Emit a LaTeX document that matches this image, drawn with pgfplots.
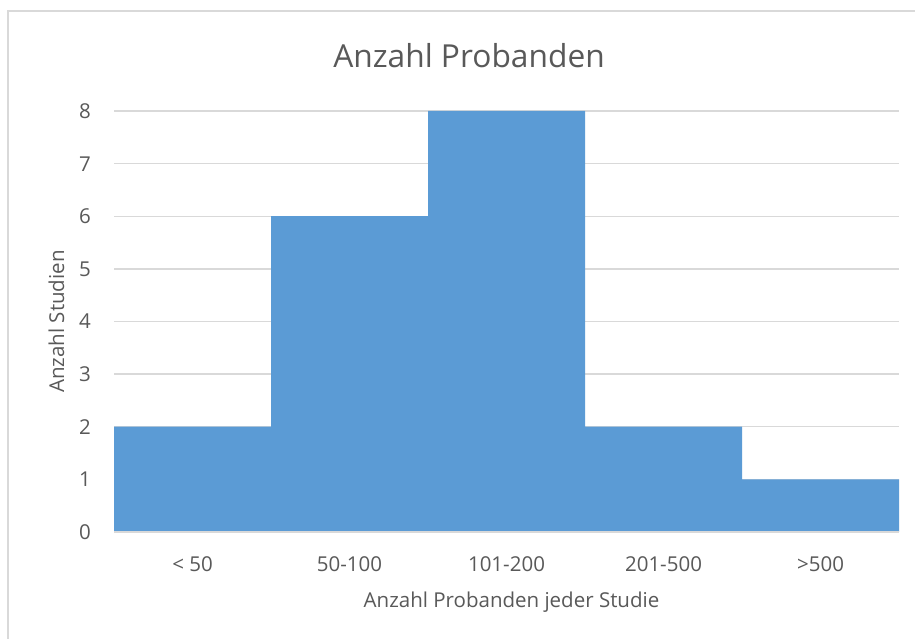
\documentclass[border=0pt]{standalone}
\usepackage{fontspec}
\setmainfont{Open Sans}
\usepackage{pgfplots}
\pgfplotsset{compat=1.18}
\definecolor{barblue}{HTML}{5B9BD5}
\definecolor{txtgrey}{HTML}{595959}
\definecolor{gridgrey}{HTML}{D9D9D9}
\begin{document}
\begin{tikzpicture}[x=1bp,y=1bp]
\useasboundingbox (0,0) rectangle (915,639);
\fill[white] (0,0) rectangle (915,639);
\draw[gridgrey, line width=1.3bp] (8,-30) -- (8,628) -- (960,628);
\begin{axis}[
  at={(114bp,107bp)}, anchor=south west,
  scale only axis,
  width=785bp, height=421bp,
  xmin=0, xmax=5, ymin=0, ymax=8,
  axis lines=none,
  ybar, bar width=1, bar shift=0,
  xtick={0.5,1.5,2.5,3.5,4.5},
  xticklabels={{< 50},{50-100},{101-200},{201-500},{>500}},
  ytick={0,...,8},
  major tick length=0pt,
  ymajorgrids=true,
  grid style={gridgrey, line width=1.3bp},
  /pgf/number format/assume math mode=true,
  every tick label/.append style={font=\fontsize{20.5bp}{24bp}\selectfont, text=txtgrey, inner sep=0pt},
  xticklabel style={anchor=base, yshift=-40bp},
  yticklabel style={anchor=base east, xshift=-23bp, yshift=-7.5bp},
  xticklabel pos=bottom,
  yticklabel pos=left,
  hide x axis=false, hide y axis=false,
  x axis line style={draw=none}, y axis line style={draw=none},
  title={Anzahl Probanden},
  title style={font=\fontsize{31.7bp}{36bp}\selectfont, text=txtgrey, inner sep=0pt, at={(axis description cs:0.5,1)}, anchor=base, yshift=38bp, xshift=-37.5bp},
  xlabel={Anzahl Probanden jeder Studie},
  xlabel style={font=\fontsize{20.5bp}{24bp}\selectfont, text=txtgrey, inner sep=0pt, at={(axis description cs:0.5,0)}, anchor=base, yshift=-76bp, xshift=5bp},
  ylabel={Anzahl Studien},
  ylabel style={font=\fontsize{20.5bp}{24bp}\selectfont, text=txtgrey, inner sep=0pt, at={(axis description cs:0,0.5)}, anchor=base, yshift=50bp},
  clip=false,
]
\addplot[fill=barblue, draw=none] coordinates {(0.5,2) (1.5,6) (2.5,8) (3.5,2) (4.5,1)};
\draw[gridgrey, line width=1.3bp] (axis cs:0,0) -- (axis cs:5,0);
\end{axis}
\end{tikzpicture}
\end{document}
